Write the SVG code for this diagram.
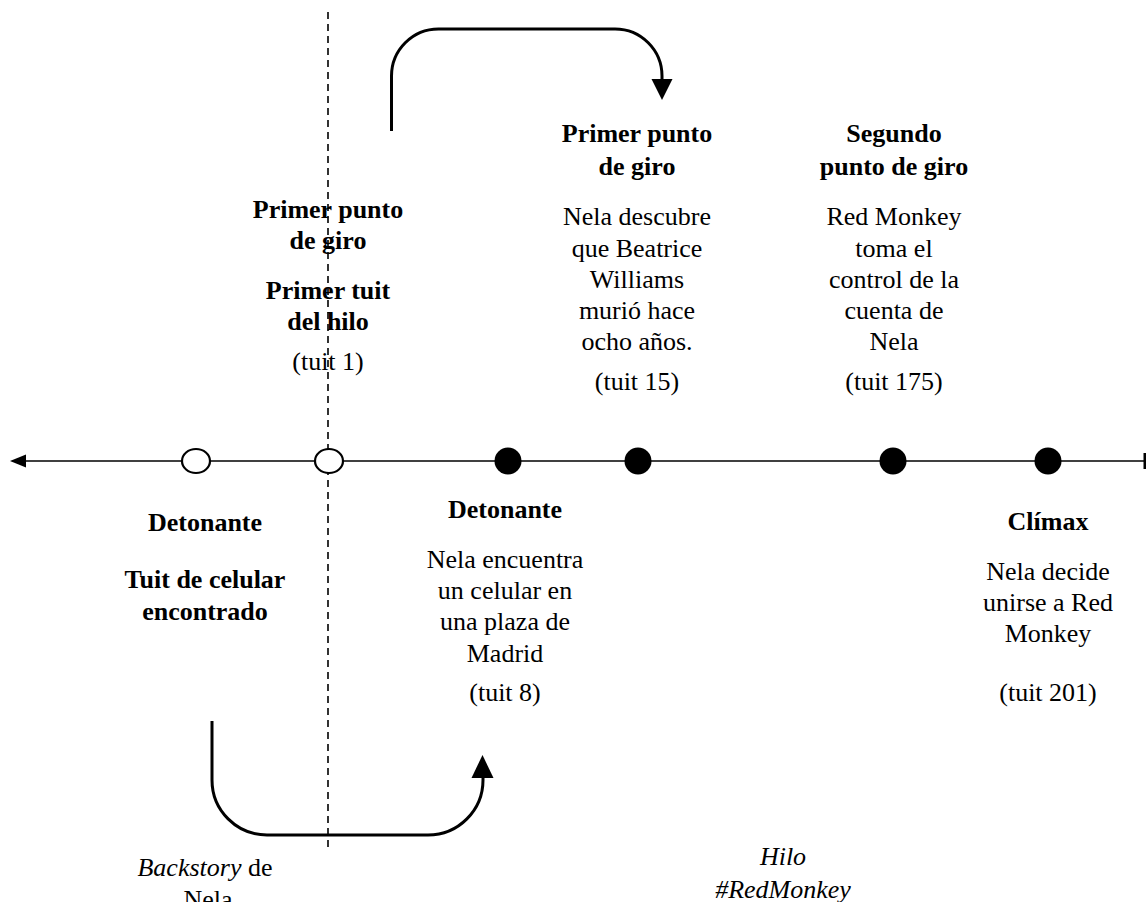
<svg xmlns="http://www.w3.org/2000/svg" width="1146" height="902" viewBox="0 0 1146 902">
<defs>
<style>
text{font-family:"Liberation Serif","Times New Roman",serif;font-size:26px;fill:#000;text-anchor:middle}
.b{font-weight:bold}
.i{font-style:italic}
.axis{stroke:#000;stroke-width:1.4;fill:none}
.curve{stroke:#000;stroke-width:3;fill:none}
.dash{stroke:#000;stroke-width:1.6;stroke-dasharray:7 5;fill:none}
.open{fill:#fff;stroke:#000;stroke-width:2.2}
.fill{fill:#000}
</style>
</defs>
<rect width="1146" height="902" fill="#fff"/>
<g id="connectors">
<line class="dash" x1="328" y1="12" x2="328" y2="852"/>
<line class="axis" x1="22" y1="461" x2="1144" y2="461"/>
<polygon points="10,461 26,454.5 26,467.5" fill="#000"/>
<rect x="1143.5" y="453" width="3" height="16" fill="#000"/>
<path class="curve" d="M391.5,131 V76 A47,47 0 0 1 438.5,29 H615 A47,47 0 0 1 662,76 V82"/>
<polygon points="651.5,79 672.5,79 662,100" fill="#000"/>
<path class="curve" d="M212,721 V780 A55,55 0 0 0 267,835 H428 A55,55 0 0 0 483,780 V775"/>
<polygon points="471.5,778 493.5,778 482.5,755" fill="#000"/>
</g>
<g id="markers">
<ellipse class="open" cx="196" cy="461" rx="14" ry="12"/>
<ellipse class="open" cx="329" cy="461" rx="14" ry="12"/>
<circle class="fill" cx="508" cy="461" r="13.5"/>
<circle class="fill" cx="638" cy="461" r="13.5"/>
<circle class="fill" cx="893" cy="461" r="13.5"/>
<circle class="fill" cx="1048" cy="461" r="13.5"/>
</g>
<g id="node-tuit1">
<text class="b" x="328" y="218">Primer punto</text>
<text class="b" x="328" y="249">de giro</text>
<text class="b" x="328" y="299">Primer tuit</text>
<text class="b" x="328" y="330">del hilo</text>
<text x="328" y="370">(tuit 1)</text>
</g>
<g id="node-tuit15">
<text class="b" x="637" y="142">Primer punto</text>
<text class="b" x="637" y="175">de giro</text>
<text x="637" y="225">Nela descubre</text>
<text x="637" y="257">que Beatrice</text>
<text x="637" y="288">Williams</text>
<text x="637" y="319">murió hace</text>
<text x="637" y="350">ocho años.</text>
<text x="637" y="390">(tuit 15)</text>
</g>
<g id="node-tuit175">
<text class="b" x="894" y="142">Segundo</text>
<text class="b" x="894" y="175">punto de giro</text>
<text x="894" y="225">Red Monkey</text>
<text x="894" y="257">toma el</text>
<text x="894" y="288">control de la</text>
<text x="894" y="319">cuenta de</text>
<text x="894" y="350">Nela</text>
<text x="894" y="390">(tuit 175)</text>
</g>
<g id="node-detonante-backstory">
<text class="b" x="205" y="531">Detonante</text>
<text class="b" x="205" y="588">Tuit de celular</text>
<text class="b" x="205" y="620">encontrado</text>
</g>
<g id="node-tuit8">
<text class="b" x="505" y="518">Detonante</text>
<text x="505" y="568">Nela encuentra</text>
<text x="505" y="599">un celular en</text>
<text x="505" y="630">una plaza de</text>
<text x="505" y="662">Madrid</text>
<text x="505" y="701">(tuit 8)</text>
</g>
<g id="node-tuit201">
<text class="b" x="1048" y="530">Clímax</text>
<text x="1048" y="580">Nela decide</text>
<text x="1048" y="611">unirse a Red</text>
<text x="1048" y="642">Monkey</text>
<text x="1048" y="701">(tuit 201)</text>
</g>
<g id="label-backstory">
<text x="205" y="876"><tspan class="i">Backstory</tspan> de</text>
<text x="208" y="908">Nela</text>
</g>
<g id="label-hilo">
<text class="i" x="783" y="865">Hilo</text>
<text class="i" x="783" y="898">#RedMonkey</text>
</g>
</svg>
